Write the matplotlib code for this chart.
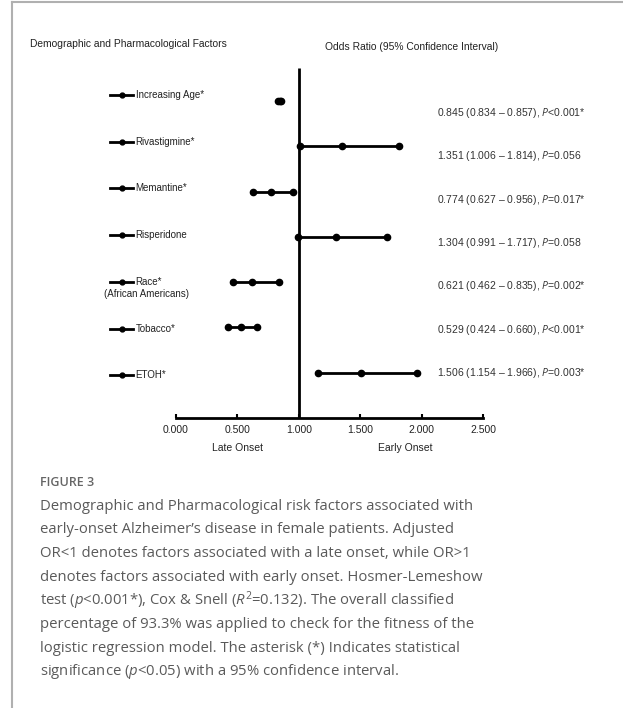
import matplotlib.pyplot as plt
from matplotlib.lines import Line2D

plt.rcParams['font.family'] = ['Liberation Sans', 'DejaVu Sans']
plt.rcParams['mathtext.fontset'] = 'custom'
plt.rcParams['mathtext.it'] = 'Open Sans:italic'
plt.rcParams['mathtext.rm'] = 'Open Sans'

# ===============================
# Data
# ===============================
factors = ['Increasing Age*', 'Rivastigmine*', 'Memantine*', 'Risperidone',
           'Race*', 'Tobacco*', 'ETOH*']
odds = [0.845, 1.351, 0.774, 1.304, 0.621, 0.529, 1.506]
ci_low = [0.834, 1.006, 0.627, 0.991, 0.462, 0.424, 1.154]
ci_high = [0.857, 1.814, 0.956, 1.717, 0.835, 0.660, 1.966]
p_text = ['<0.001*', '=0.056', '=0.017*', '=0.058', '=0.002*', '<0.001*', '=0.003*']
x_ticks = [0.0, 0.5, 1.0, 1.5, 2.0, 2.5]

caption_lines = [
    "Demographic and Pharmacological risk factors associated with",
    "early-onset Alzheimer\u2019s disease in female patients. Adjusted",
    "OR<1 denotes factors associated with a late onset, while OR>1",
    "denotes factors associated with early onset. Hosmer-Lemeshow",
    "test ($\\mathit{p}$<0.001*), Cox & Snell ($\\mathit{R}^2$=0.132). The overall classified",
    "percentage of 93.3% was applied to check for the fitness of the",
    "logistic regression model. The asterisk (*) Indicates statistical",
    "significance ($\\mathit{p}$<0.05) with a 95% confidence interval.",
]

# ===============================
# Layout (pixels)
# ===============================
W, H = 623, 708
fig = plt.figure(figsize=(W / 100, H / 100), dpi=100)

def fx(px):
    return px / W

def fy(py):
    return 1 - py / H

unit_px = 45.3
ax_top, ax_bottom = 60, 418
ax = fig.add_axes([fx(176), fy(ax_bottom), fx(483) - fx(176), (ax_bottom - ax_top) / H])
ax.set_xlim(0, 2.5)
ax.set_ylim(0, (ax_bottom - ax_top) / unit_px)

for s in ['top', 'right', 'left']:
    ax.spines[s].set_visible(False)
ax.spines['bottom'].set_linewidth(2)
ax.spines['bottom'].set_bounds(0, 2.5)
ax.set_yticks([])
ax.set_xticks(x_ticks)
ax.set_xticklabels([f'{t:.3f}' for t in x_ticks], fontsize=7.5, color='#222')
ax.tick_params(axis='x', direction='in', length=3, width=1.5, pad=5)

# reference line at OR = 1
ax.plot([1, 1], [0, (ax_bottom - 68) / unit_px], color='black', lw=2, solid_capstyle='butt')

n = len(factors)
for i in range(n):
    yv = n - i
    ax.plot([ci_low[i], odds[i], ci_high[i]], [yv] * 3, '-o', color='black',
            lw=2, ms=4.5, clip_on=False)

# left labels with small legend-like handles
for i, name in enumerate(factors):
    py = 95 + i * 46.7
    fig.add_artist(Line2D([fx(110), fx(133)], [fy(py), fy(py)], color='black', lw=2))
    fig.add_artist(Line2D([fx(121.5)], [fy(py)], color='black', marker='o', ms=3.5))
    fig.text(fx(135.5), fy(py), name, fontsize=7, va='center', ha='left', color='#222')
fig.text(fx(146), fy(294), '(African Americans)', fontsize=7, va='center', ha='center',
         color='#222')

# right column OR (CI), P
for i in range(n):
    py = 113 + i * 43.3
    txt = f'{odds[i]:.3f} ({ci_low[i]:.3f} \u2013 {ci_high[i]:.3f}), $\\mathit{{P}}${p_text[i]}'
    fig.text(fx(437), fy(py), txt, fontsize=7.5, va='center', ha='left', color='#333')

# headers
fig.text(fx(30), fy(44), 'Demographic and Pharmacological Factors', fontsize=7.4,
         va='center', ha='left', color='#222')
fig.text(fx(325), fy(47), 'Odds Ratio (95% Confidence Interval)', fontsize=7.4,
         va='center', ha='left', color='#222')

# axis side labels
ax.text(0.5, -0.085, 'Late Onset', transform=ax.get_xaxis_transform(), fontsize=7.5,
        ha='center', va='center', color='#222')
ax.text(1.87, -0.085, 'Early Onset', transform=ax.get_xaxis_transform(), fontsize=7.5,
        ha='center', va='center', color='#222')

# ===============================
# Caption
# ===============================
fig.text(fx(40), fy(483), 'FIGURE 3', fontsize=9, fontweight='semibold',
         family=['Open Sans', 'DejaVu Sans'], color='#666', va='center', ha='left')
for k, line in enumerate(caption_lines):
    fig.text(fx(40), fy(506 + k * 23.7), line, fontsize=10.7,
             family=['Open Sans', 'DejaVu Sans'], color='#5a5a5a', va='center', ha='left')

# frame
fig.add_artist(Line2D([fx(12), fx(12)], [fy(2), 0], color='#b0b0b0', lw=1.5))
fig.add_artist(Line2D([fx(12), 1], [fy(2), fy(2)], color='#b0b0b0', lw=1.5))

fig.savefig('out.png', dpi=100)
